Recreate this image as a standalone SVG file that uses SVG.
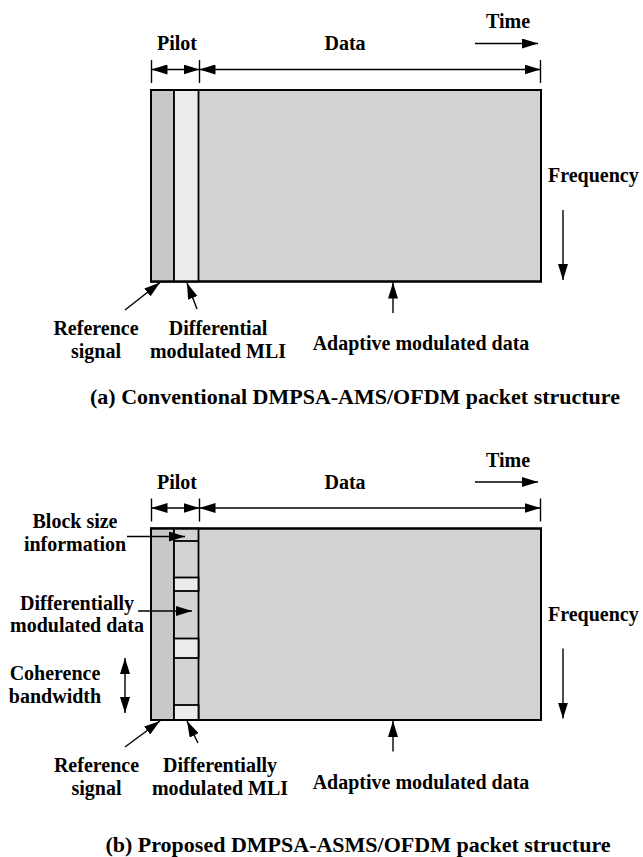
<svg xmlns="http://www.w3.org/2000/svg" width="643" height="857" viewBox="0 0 643 857">
<style>
text{font-family:"Liberation Serif","Times New Roman",serif;font-weight:bold;font-size:20px;fill:#000}
.c{text-anchor:middle}
.cap{font-size:22px}
.ln{stroke:#000;stroke-width:1.4;fill:none}
.box{stroke:#000;stroke-width:2}
.data{fill:#d3d3d3}
.ref{fill:#c8c8c8}
.lite{fill:#ebebeb}
.cell{stroke:#000;stroke-width:1.8}
</style>
<defs>
<marker id="ah" markerUnits="userSpaceOnUse" markerWidth="16" markerHeight="10" refX="16" refY="5" orient="auto-start-reverse" viewBox="0 0 16 10">
<path d="M0,0 L16,5 L0,10 z" fill="#000"/>
</marker>
</defs>

<!-- (a) conventional -->
<g id="a-packet">
<rect class="box data" x="151" y="90" width="390" height="191.5"/>
<rect class="cell ref" x="151" y="90" width="23" height="191.5"/>
<rect class="cell lite" x="174" y="90" width="24.5" height="191.5"/>
<rect x="151" y="90" width="390" height="191.5" fill="none" stroke="#000" stroke-width="2"/>
</g>
<g id="a-pilot-label"><text class="c" x="177" y="50">Pilot</text></g>
<g id="a-data-label"><text class="c" x="345" y="50">Data</text></g>
<g id="a-time-label"><text class="c" x="508" y="28">Time</text></g>
<g id="a-freq-label"><text x="548" y="182">Frequency</text></g>
<g id="a-ref-label"><text class="c" x="96" y="335">Reference</text><text class="c" x="96" y="358">signal</text></g>
<g id="a-mli-label"><text class="c" x="218" y="335">Differential</text><text class="c" x="218" y="358">modulated MLI</text></g>
<g id="a-adapt-label"><text class="c" x="421" y="350">Adaptive modulated data</text></g>
<g id="a-caption"><text class="c cap" x="355" y="404">(a) Conventional DMPSA-AMS/OFDM packet structure</text></g>

<!-- (b) proposed -->
<g id="b-packet">
<rect class="box data" x="151" y="528.5" width="390" height="191.5"/>
<rect class="cell ref" x="151" y="528.5" width="23" height="191.5"/>
<rect class="cell data" x="174" y="528.5" width="24.5" height="191.5"/>
<line class="cell" x1="174" y1="541" x2="198.5" y2="541"/>
<rect class="cell lite" x="174" y="577.5" width="24.5" height="13.5"/>
<rect class="cell lite" x="174" y="638.5" width="24.5" height="19.5"/>
<rect class="cell lite" x="174" y="705" width="24.5" height="15"/>
<rect x="151" y="528.5" width="390" height="191.5" fill="none" stroke="#000" stroke-width="2"/>
</g>
<g id="b-pilot-label"><text class="c" x="177" y="488.5">Pilot</text></g>
<g id="b-data-label"><text class="c" x="345" y="488.5">Data</text></g>
<g id="b-time-label"><text class="c" x="508" y="466.5">Time</text></g>
<g id="b-freq-label"><text x="548" y="620.5">Frequency</text></g>
<g id="b-block-label"><text class="c" x="75" y="528">Block size</text><text class="c" x="75" y="551">information</text></g>
<g id="b-diffdata-label"><text class="c" x="77" y="610">Differentially</text><text class="c" x="77" y="632">modulated data</text></g>
<g id="b-coh-label"><text class="c" x="55" y="680">Coherence</text><text class="c" x="55" y="703">bandwidth</text></g>
<g id="b-ref-label"><text class="c" x="96.5" y="772">Reference</text><text class="c" x="96.5" y="795">signal</text></g>
<g id="b-mli-label"><text class="c" x="220" y="772">Differentially</text><text class="c" x="220" y="795">modulated MLI</text></g>
<g id="b-adapt-label"><text class="c" x="421" y="788.5">Adaptive modulated data</text></g>
<g id="b-caption"><text class="c cap" x="358" y="852">(b) Proposed DMPSA-ASMS/OFDM packet structure</text></g>

<g id="connectors">
<!-- (a) -->
<line class="ln" x1="151.5" y1="60" x2="151.5" y2="83"/>
<line class="ln" x1="199.5" y1="60" x2="199.5" y2="83"/>
<line class="ln" x1="540.5" y1="60" x2="540.5" y2="83"/>
<line class="ln" x1="151.5" y1="69.5" x2="199.5" y2="69.5" marker-start="url(#ah)" marker-end="url(#ah)"/>
<line class="ln" x1="199.5" y1="69.5" x2="540.5" y2="69.5" marker-start="url(#ah)" marker-end="url(#ah)"/>
<line class="ln" x1="475" y1="43.5" x2="538" y2="43.5" marker-end="url(#ah)"/>
<line class="ln" x1="563" y1="210" x2="563" y2="280" marker-end="url(#ah)"/>
<line class="ln" x1="125" y1="310" x2="160" y2="282.5" marker-end="url(#ah)"/>
<line class="ln" x1="197" y1="309" x2="187" y2="283" marker-end="url(#ah)"/>
<line class="ln" x1="393" y1="313" x2="393" y2="282.5" marker-end="url(#ah)"/>
<!-- (b) -->
<line class="ln" x1="151.5" y1="498.5" x2="151.5" y2="521.5"/>
<line class="ln" x1="199.5" y1="498.5" x2="199.5" y2="521.5"/>
<line class="ln" x1="540.5" y1="498.5" x2="540.5" y2="521.5"/>
<line class="ln" x1="151.5" y1="508" x2="199.5" y2="508" marker-start="url(#ah)" marker-end="url(#ah)"/>
<line class="ln" x1="199.5" y1="508" x2="540.5" y2="508" marker-start="url(#ah)" marker-end="url(#ah)"/>
<line class="ln" x1="475" y1="482" x2="538" y2="482" marker-end="url(#ah)"/>
<line class="ln" x1="563" y1="648.5" x2="563" y2="718.5" marker-end="url(#ah)"/>
<line class="ln" x1="127" y1="536.5" x2="185" y2="536.5" marker-end="url(#ah)"/>
<line class="ln" x1="138" y1="611" x2="192" y2="611" marker-end="url(#ah)"/>
<line class="ln" x1="125" y1="658" x2="125" y2="713" marker-start="url(#ah)" marker-end="url(#ah)"/>
<line class="ln" x1="125" y1="747" x2="160" y2="721" marker-end="url(#ah)"/>
<line class="ln" x1="198" y1="743" x2="187" y2="721" marker-end="url(#ah)"/>
<line class="ln" x1="393" y1="751.5" x2="393" y2="721" marker-end="url(#ah)"/>
</g>
</svg>
